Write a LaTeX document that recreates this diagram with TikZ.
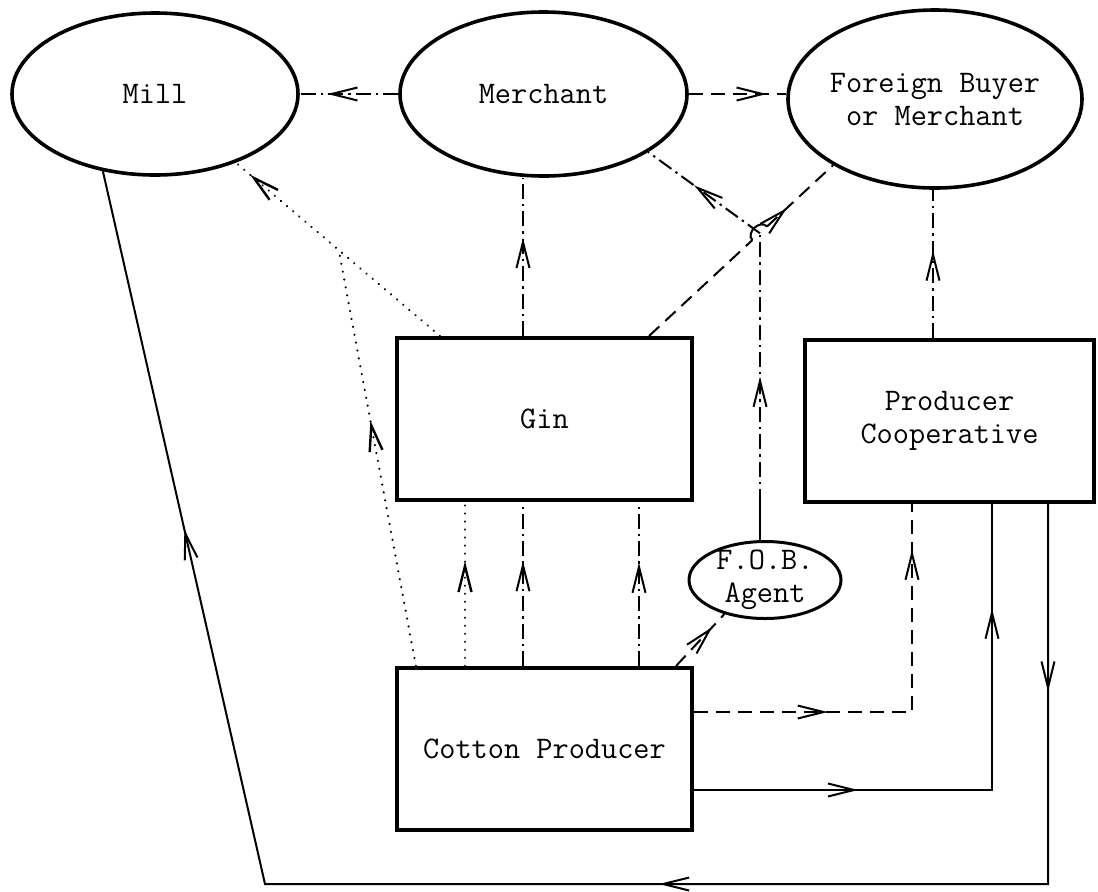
\documentclass[tikz,border=0pt]{standalone}
\usepackage{fontspec}
\usetikzlibrary{shapes.geometric,arrows.meta,decorations.markings,calc}
\begin{document}
\begin{tikzpicture}[x=0.5pt,y=-0.5pt,
  >={Straight Barb[length=13pt,width=6.5pt]},
  every node/.style={font=\fontsize{15.7}{16.5}\selectfont\ttfamily\addfontfeature{FakeBold=0.5}},
  ell/.style={ellipse, draw, line width=1.8pt, inner sep=0pt},
  boxnode/.style={rectangle, draw, line width=2.1pt, inner sep=0pt},
  conn/.style={line width=1pt},
  dashdot/.style={dash pattern=on 7.5pt off 2.5pt on 1.2pt off 2.5pt},
  dashedl/.style={dash pattern=on 7pt off 4pt},
  dottedl/.style={line width=1.2pt, dash pattern=on 0.01pt off 4pt, line cap=round},
  arr/.style={postaction={decorate,decoration={markings,mark=at position #1 with {\arrow{>}}}}},
  arrtwo/.style 2 args={postaction={decorate,decoration={markings,
     mark=at position #1 with {\arrow{>}},mark=at position #2 with {\arrow{>}}}}},
  arrthree/.style n args={3}{postaction={decorate,decoration={markings,
     mark=at position #1 with {\arrow{>}},mark=at position #2 with {\arrow{>}},
     mark=at position #3 with {\arrow{>}}}}}
]
\useasboundingbox (0,0) rectangle (1098,891);

% nodes
\node[ell, minimum width=143pt, minimum height=81pt] (mill) at (155,94) {Mill};
\node[ell, minimum width=143.5pt, minimum height=82pt] (merchant) at (543.5,94) {Merchant};
\node[ell, inner sep=-1.5pt, minimum width=147pt, minimum height=89pt, align=center] (fb) at (935,99) {Foreign Buyer\\or Merchant};
\node[boxnode, minimum width=147.5pt, minimum height=81pt] (gin) at (544.5,419) {Gin};
\node[boxnode, minimum width=144.5pt, minimum height=81pt, align=center] (coop) at (949.5,421) {Producer\\Cooperative};
\node[boxnode, minimum width=147.5pt, minimum height=81pt] (cp) at (544.5,749) {Cotton Producer};
\node[ell, line width=1.5pt, inner sep=-2pt, minimum width=76pt, minimum height=38.5pt, align=center] (fob) at (765,580) {F.O.B.\\Agent};

% top row
\draw[conn,dashdot,arr=0.72] (merchant.west) -- (mill.east);
\draw[conn,dashedl,arr=0.8] (merchant.east) -- (merchant.east -| fb.west);

% Gin -> Merchant
\coordinate (g1) at ([xshift=-10.75pt]gin.north);
\draw[conn,dashdot,arr=0.62] (g1) -- (g1 |- merchant.south);

% Gin -> Mill (dotted)
\coordinate (gm) at ([xshift=22.5pt]gin.north west);
\draw[conn,dottedl,arr=0.93] (gm) -- (mill);
\coordinate (dj) at ($(gm)!0.355!(mill.center)$);

% Cotton Producer -> junction on dotted line
\draw[conn,dottedl,arr=0.59] ([xshift=10.5pt]cp.north west) -- (dj);

% Cotton Producer -> Gin
\coordinate (c1) at ([xshift=-39.75pt]cp.north);
\coordinate (c2) at ([xshift=-10.75pt]cp.north);
\coordinate (c3) at ([xshift=47.25pt]cp.north);
\draw[conn,dottedl,arr=0.64] (c1) -- (c1 |- gin.south);
\draw[conn,dashdot,arr=0.64] (c2) -- (c2 |- gin.south);
\draw[conn,dashdot,arr=0.63] (c3) -- (c3 |- gin.south);

% Cotton Producer -> F.O.B. Agent
\draw[conn,dashedl,arr=0.75] ([xshift=-9pt]cp.north east) -- (fob.220);

% Gin -> Foreign Buyer with hop, F.O.B. -> Merchant
\coordinate (gs) at ([xshift=-22.5pt]gin.north east);
\coordinate (fk) at ([xshift=-2.5pt,yshift=18pt]fob.north);
\coordinate (Jl) at ($(gs)!0.601!(fb.213)$);
\coordinate (J) at (fk |- Jl);
\coordinate (h1) at ($(Jl)!5pt!(gs)$);
\coordinate (h2) at ($(Jl)!5pt!(fb.213)$);
\draw[conn,dashedl] (gs) -- (h1);
\draw[conn] (h1) to[bend left=90,looseness=1.3] (h2);
\draw[conn,dashedl,arr=0.3] (h2) -- (fb.213);

\draw[conn] ([xshift=-2.5pt]fob.north) -- (fk);
\draw[conn,dashdot,arr=0.47] (fk) -- (J);
\draw[conn,dashdot,arr=0.59] (J) -- (merchant.-29);

% Cooperative -> Foreign Buyer
\coordinate (k1) at ([xshift=-8.25pt]coop.north);
\draw[conn,dashdot,arr=0.59] (k1) -- (k1 |- fb.south);

% Cotton Producer -> Cooperative
\draw[conn,dashedl,arrtwo={0.314}{0.893}] ([yshift=18.5pt]cp.east) -| ([xshift=-18.75pt]coop.south);
\draw[conn,arrtwo={0.281}{0.821}] ([yshift=-20.5pt]cp.east) -| ([xshift=21.25pt]coop.south);

% Cooperative -> Mill
\coordinate (k4) at ([xshift=49.25pt]coop.south);
\coordinate (br) at (1048,884);
\coordinate (bl) at (265,884);
\draw[conn,arrthree={0.099}{0.406}{0.806}] (k4) -- (k4 |- br) -- (bl) -- (mill.236);
\end{tikzpicture}
\end{document}
